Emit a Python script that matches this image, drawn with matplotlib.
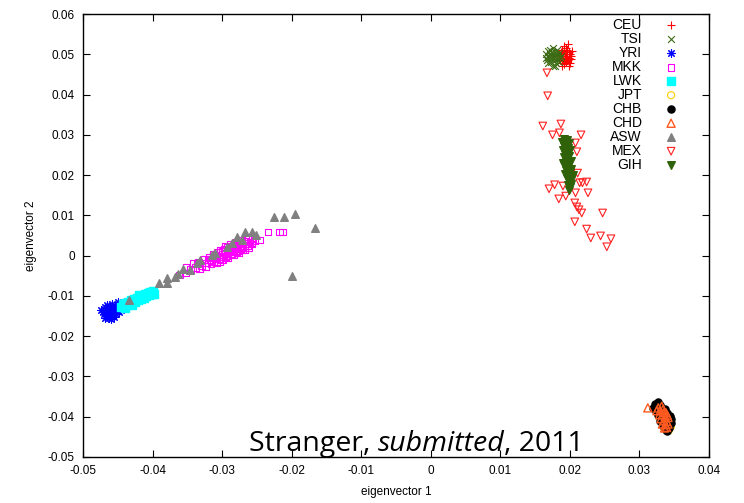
import matplotlib
matplotlib.use("Agg")
import matplotlib.pyplot as plt
from matplotlib.ticker import FuncFormatter, MultipleLocator

plt.rcParams['font.family'] = ['Liberation Sans', 'DejaVu Sans']
plt.rcParams['axes.unicode_minus'] = False

# ---- data (eigenvector 1, eigenvector 2) ----
ceu_x = [0.0185, 0.0186, 0.0187, 0.0188, 0.0189, 0.0190, 0.0190, 0.0191, 0.0191, 0.0192,
         0.0192, 0.0193, 0.0193, 0.0194, 0.0194, 0.0195, 0.0195, 0.0196, 0.0196, 0.0197,
         0.0197, 0.0198, 0.0199, 0.0200, 0.0200, 0.0201, 0.0202, 0.0203, 0.0189, 0.0198]
ceu_y = [0.0495, 0.0485, 0.0505, 0.0478, 0.0512, 0.0492, 0.0500, 0.0483, 0.0520, 0.0508,
         0.0475, 0.0495, 0.0490, 0.0515, 0.0502, 0.0480, 0.0488, 0.0510, 0.0497, 0.0525,
         0.0485, 0.0505, 0.0492, 0.0478, 0.0500, 0.0488, 0.0495, 0.0508, 0.0470, 0.0472]

tsi_x = [0.0165, 0.0166, 0.0167, 0.0168, 0.0169, 0.0170, 0.0171, 0.0171, 0.0172, 0.0173,
         0.0173, 0.0174, 0.0175, 0.0175, 0.0176, 0.0177, 0.0177, 0.0178, 0.0179, 0.0180,
         0.0180, 0.0181, 0.0182, 0.0183, 0.0184, 0.0185, 0.0186, 0.0187, 0.0168, 0.0178]
tsi_y = [0.0492, 0.0500, 0.0485, 0.0508, 0.0478, 0.0495, 0.0502, 0.0488, 0.0512, 0.0480,
         0.0497, 0.0505, 0.0490, 0.0472, 0.0515, 0.0498, 0.0484, 0.0507, 0.0493, 0.0478,
         0.0500, 0.0488, 0.0510, 0.0495, 0.0482, 0.0503, 0.0490, 0.0497, 0.0494, 0.0470]

yri_x = [-0.0472, -0.0470, -0.0470, -0.0468, -0.0467, -0.0466, -0.0465, -0.0464, -0.0463, -0.0462,
         -0.0461, -0.0460, -0.0459, -0.0458, -0.0457, -0.0456, -0.0455, -0.0454, -0.0453, -0.0452,
         -0.0450, -0.0449, -0.0448, -0.0446, -0.0445, -0.0468, -0.0474, -0.0460, -0.0450]
yri_y = [-0.0140, -0.0133, -0.0146, -0.0128, -0.0138, -0.0150, -0.0122, -0.0132, -0.0143, -0.0155,
         -0.0127, -0.0137, -0.0148, -0.0120, -0.0131, -0.0141, -0.0152, -0.0125, -0.0135, -0.0145,
         -0.0122, -0.0130, -0.0140, -0.0126, -0.0134, -0.0156, -0.0135, -0.0158, -0.0116]

mkk_x = [-0.0352, -0.0346, -0.0342, -0.0338, -0.0334, -0.0330, -0.0326, -0.0322, -0.0318, -0.0315,
         -0.0312, -0.0310, -0.0307, -0.0305, -0.0302, -0.0300, -0.0297, -0.0295, -0.0292, -0.0290,
         -0.0287, -0.0285, -0.0282, -0.0280, -0.0277, -0.0275, -0.0272, -0.0270, -0.0267, -0.0265,
         -0.0262, -0.0260, -0.0257, -0.0254, -0.0300, -0.0290, -0.0280, -0.0310, -0.0320, -0.0285,
         -0.0305, -0.0298, -0.0293, -0.0288, -0.0283, -0.0278, -0.0273, -0.0268, -0.0263, -0.0258,
         -0.0295, -0.0287, -0.0279, -0.0271, -0.0301, -0.0312,
         -0.0308, -0.0300, -0.0292, -0.0284, -0.0276, -0.0268, -0.0262, -0.0296, -0.0288, -0.0280,
         -0.0272, -0.0316, -0.0324, -0.0332,
         -0.0234, -0.0217, -0.0213, -0.0246, -0.0257, -0.0303, -0.0335, -0.0353, -0.0361]
mkk_y = [-0.0030, -0.0034, -0.0020, -0.0030, -0.0016, -0.0024, -0.0010, -0.0018, -0.0004, -0.0012,
         0.0004, -0.0006, 0.0008, -0.0002, 0.0012, 0.0002, 0.0016, 0.0006, 0.0020, 0.0010,
         0.0024, 0.0012, 0.0026, 0.0018, 0.0030, 0.0020, 0.0034, 0.0026, 0.0036, 0.0030,
         0.0040, 0.0034, 0.0042, 0.0038, 0.0010, 0.0016, 0.0024, 0.0000, -0.0010, 0.0020,
         -0.0008, -0.0003, 0.0001, 0.0005, 0.0009, 0.0013, 0.0017, 0.0021, 0.0025, 0.0029,
         -0.0002, 0.0004, 0.0010, 0.0016, -0.0010, -0.0014,
         -0.0016, -0.0010, -0.0004, 0.0002, 0.0008, 0.0014, 0.0020, 0.0022, 0.0028, 0.0033,
         0.0038, -0.0020, -0.0026, -0.0032,
         0.0059, 0.0059, 0.0059, 0.0039, 0.0032, -0.0015, -0.0018, -0.0043, -0.0048]

lwk_x = [-0.0445, -0.0443, -0.0441, -0.0439, -0.0437, -0.0435, -0.0433, -0.0431, -0.0429, -0.0427,
         -0.0425, -0.0423, -0.0421, -0.0419, -0.0417, -0.0415, -0.0413, -0.0411, -0.0409, -0.0407,
         -0.0405, -0.0403, -0.0401, -0.0399, -0.0398, -0.0440, -0.0430, -0.0420]
lwk_y = [-0.0128, -0.0120, -0.0125, -0.0117, -0.0123, -0.0114, -0.0120, -0.0111, -0.0117, -0.0108,
         -0.0114, -0.0105, -0.0111, -0.0102, -0.0108, -0.0099, -0.0104, -0.0096, -0.0101, -0.0093,
         -0.0098, -0.0091, -0.0096, -0.0089, -0.0094, -0.0130, -0.0123, -0.0098]

jpt_x = [0.0345, 0.0342, 0.0330, 0.0344]
jpt_y = [-0.0425, -0.0435, -0.0405, -0.0410]

chb_x = [0.0322, 0.0326, 0.0320, 0.0324, 0.0330, 0.0336, 0.0340, 0.0344, 0.0327, 0.0330,
         0.0334, 0.0338, 0.0342, 0.0345, 0.0346, 0.0340, 0.0333, 0.0337, 0.0328, 0.0343]
chb_y = [-0.0368, -0.0364, -0.0378, -0.0386, -0.0372, -0.0380, -0.0390, -0.0398, -0.0395, -0.0410,
         -0.0422, -0.0432, -0.0428, -0.0415, -0.0405, -0.0436, -0.0415, -0.0400, -0.0385, -0.0420]

chd_x = [0.0327, 0.0330, 0.0334, 0.0338, 0.0329, 0.0333, 0.0337, 0.0341, 0.0331, 0.0335,
         0.0339, 0.0333, 0.0337, 0.0341, 0.0336, 0.0339, 0.0325, 0.0332, 0.0340, 0.0335,
         0.0312]
chd_y = [-0.0378, -0.0385, -0.0382, -0.0390, -0.0395, -0.0395, -0.0400, -0.0402, -0.0405, -0.0410,
         -0.0412, -0.0418, -0.0420, -0.0418, -0.0428, -0.0426, -0.0385, -0.0374, -0.0396, -0.0390,
         -0.0378]

asw_x = [-0.0226, -0.0211, -0.0195, -0.0167, -0.0200, -0.0267, -0.0257, -0.0251, -0.0279, -0.0272,
         -0.0286, -0.0293, -0.0310, -0.0315, -0.0332, -0.0336, -0.0346, -0.0356, -0.0363, -0.0368,
         -0.0379, -0.0379, -0.0391, -0.0434]
asw_y = [0.0096, 0.0096, 0.0104, 0.0069, -0.0050, 0.0059, 0.0059, 0.0052, 0.0047, 0.0039,
         0.0032, 0.0022, 0.0007, 0.0002, -0.0010, -0.0018, -0.0035, -0.0033, -0.0045, -0.0053,
         -0.0055, -0.0067, -0.0067, -0.0110]

mex_x = [0.0167, 0.0168, 0.0161, 0.0187, 0.0175, 0.0185, 0.0216, 0.0208, 0.0210, 0.0211,
         0.0178, 0.0170, 0.0190, 0.0214, 0.0218, 0.0224, 0.0208, 0.0184, 0.0194, 0.0226,
         0.0207, 0.0210, 0.0213, 0.0217, 0.0247, 0.0207, 0.0224, 0.0230, 0.0244, 0.0259, 0.0253]
mex_y = [0.0454, 0.0397, 0.0322, 0.0327, 0.0300, 0.0305, 0.0300, 0.0280, 0.0258, 0.0205,
         0.0176, 0.0166, 0.0173, 0.0181, 0.0181, 0.0183, 0.0156, 0.0141, 0.0148, 0.0156,
         0.0131, 0.0121, 0.0114, 0.0106, 0.0106, 0.0084, 0.0066, 0.0044, 0.0049, 0.0042, 0.0022]

gih_x = [0.0191, 0.0196, 0.0189, 0.0194, 0.0199, 0.0192, 0.0197, 0.0190, 0.0195, 0.0200,
         0.0193, 0.0198, 0.0191, 0.0196, 0.0201, 0.0194, 0.0199, 0.0192, 0.0197, 0.0202,
         0.0195, 0.0200, 0.0193, 0.0198, 0.0203, 0.0196, 0.0201, 0.0199, 0.0197, 0.0202,
         0.0200, 0.0199, 0.0205, 0.0190]
gih_y = [0.0290, 0.0288, 0.0282, 0.0278, 0.0280, 0.0272, 0.0268, 0.0263, 0.0258, 0.0262,
         0.0252, 0.0248, 0.0244, 0.0240, 0.0236, 0.0232, 0.0228, 0.0224, 0.0220, 0.0216,
         0.0212, 0.0208, 0.0204, 0.0200, 0.0196, 0.0192, 0.0188, 0.0182, 0.0176, 0.0178,
         0.0170, 0.0164, 0.0200, 0.0230]

fig = plt.figure(figsize=(7.44, 5.03), dpi=100)
ax = fig.add_axes([0.1116, 0.0915, 0.8414, 0.8805])

lw = 0.8
ax.scatter(ceu_x, ceu_y, marker='+', s=30, color='#ff0000', linewidths=lw, label='CEU')
ax.scatter(tsi_x, tsi_y, marker='x', s=24, color='#3b6b12', linewidths=lw, label='TSI')
ax.scatter(yri_x, yri_y, marker=(8, 2, 0), s=30, color='#0000ff', linewidths=lw, label='YRI')
ax.scatter(mkk_x, mkk_y, marker='s', s=24, facecolors='none', edgecolors='#ff00ff',
           linewidths=lw, label='MKK')
ax.scatter(lwk_x, lwk_y, marker='s', s=26, color='#00ffff', label='LWK')
ax.scatter(jpt_x, jpt_y, marker='o', s=26, facecolors='none', edgecolors='#ffcc00',
           linewidths=lw, label='JPT')
ax.scatter(chb_x, chb_y, marker='o', s=26, color='#000000', label='CHB')
ax.scatter(chd_x, chd_y, marker='^', s=34, facecolors='none', edgecolors='#ff5a20',
           linewidths=1.0, label='CHD')
ax.scatter(asw_x, asw_y, marker='^', s=30, color='#808080', label='ASW')
ax.scatter(mex_x, mex_y, marker='v', s=30, facecolors='none', edgecolors='#ff2020',
           linewidths=lw, label='MEX')
ax.scatter(gih_x, gih_y, marker='v', s=30, color='#2f6209', label='GIH')

ax.set_xlim(-0.05, 0.04)
ax.set_ylim(-0.05, 0.06)
ax.xaxis.set_major_locator(MultipleLocator(0.01))
ax.yaxis.set_major_locator(MultipleLocator(0.01))
fmt = FuncFormatter(lambda v, p: '0' if abs(v) < 1e-9 else f'{v:g}')
ax.xaxis.set_major_formatter(fmt)
ax.yaxis.set_major_formatter(fmt)
ax.tick_params(direction='in', length=5, width=0.8, top=True, right=True,
               labelsize=8.5, pad=6)
for sp in ax.spines.values():
    sp.set_linewidth(1.0)

ax.set_xlabel('eigenvector 1', fontsize=8.5, labelpad=6)
ax.set_ylabel('eigenvector 2', fontsize=8.5, labelpad=8)

ax.legend(loc='upper right', bbox_to_anchor=(0.966, 1.004), borderaxespad=0,
          frameon=False, markerfirst=False, fontsize=10, labelspacing=0.0,
          handletextpad=1.3, handlelength=1.6, scatterpoints=1)

t1 = ax.text(0.265, 0.013, 'Stranger, ', transform=ax.transAxes, fontsize=20.5,
             family='Open Sans', va='baseline', ha='left')
t2 = ax.annotate('submitted', xy=(1, 0), xycoords=t1, fontsize=20.5, family='Open Sans',
                 style='italic', va='bottom', ha='left')
ax.annotate(', 2011', xy=(1, 0), xycoords=t2, fontsize=20.5, family='Open Sans',
            va='bottom', ha='left')

fig.savefig('out.png', dpi=100)
